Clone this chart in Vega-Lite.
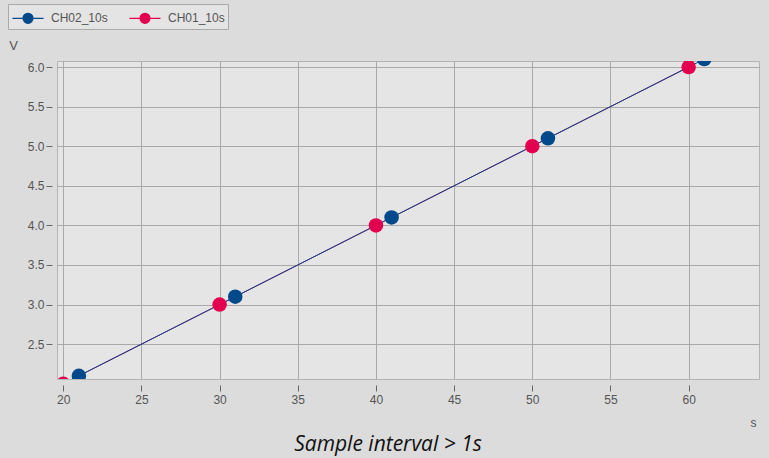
{
  "$schema": "https://vega.github.io/schema/vega-lite/v6.json",
  "width": 702,
  "height": 318,
  "autosize": {"type": "none"},
  "padding": {"left": 57, "top": 61, "right": 10, "bottom": 79},
  "background": "#dcdcdc",
  "title": {
    "text": "Sample interval > 1s",
    "orient": "bottom",
    "anchor": "middle",
    "font": "Open Sans",
    "fontStyle": "italic",
    "fontWeight": "normal",
    "fontSize": 21,
    "color": "#111111",
    "dx": -20,
    "offset": 6
  },
  "config": {
    "view": {"fill": "#e5e5e5", "stroke": "#b4b4b4"},
    "font": "Liberation Sans"
  },
  "data": {
    "values": [
      {"ch": "CH01_10s", "t": 20, "v": 2.0},
      {"ch": "CH01_10s", "t": 30, "v": 3.0},
      {"ch": "CH01_10s", "t": 40, "v": 4.0},
      {"ch": "CH01_10s", "t": 50, "v": 5.0},
      {"ch": "CH01_10s", "t": 60, "v": 6.0},
      {"ch": "CH02_10s", "t": 21, "v": 2.1},
      {"ch": "CH02_10s", "t": 31, "v": 3.1},
      {"ch": "CH02_10s", "t": 41, "v": 4.1},
      {"ch": "CH02_10s", "t": 51, "v": 5.1},
      {"ch": "CH02_10s", "t": 61, "v": 6.1}
    ]
  },
  "encoding": {
    "x": {
      "field": "t",
      "type": "quantitative",
      "scale": {"domain": [19.6, 64.5], "nice": false, "zero": false},
      "axis": {
        "values": [20, 25, 30, 35, 40, 45, 50, 55, 60],
        "title": "s",
        "titleX": 696,
        "titleY": 37,
        "titleAlign": "center",
        "titleBaseline": "middle",
        "titleFont": "Liberation Sans",
        "titleFontSize": 12,
        "titleFontWeight": "normal",
        "titleColor": "#555555",
        "domain": false,
        "offset": 6,
        "tickSize": 6,
        "tickColor": "#666666",
        "labelFontSize": 12,
        "labelColor": "#555555",
        "labelPadding": 3,
        "gridColor": "#a9a9a9",
        "gridOpacity": 1
      }
    },
    "y": {
      "field": "v",
      "type": "quantitative",
      "scale": {"domain": [2.06, 6.076], "nice": false, "zero": false},
      "axis": {
        "values": [2.5, 3.0, 3.5, 4.0, 4.5, 5.0, 5.5, 6.0],
        "format": ".1f",
        "title": "V",
        "titleAngle": 0,
        "titleX": -39,
        "titleY": -16,
        "titleAlign": "center",
        "titleBaseline": "middle",
        "titleFont": "Liberation Sans",
        "titleFontSize": 13,
        "titleFontWeight": "normal",
        "titleColor": "#555555",
        "domain": false,
        "offset": 5,
        "tickSize": 6,
        "tickColor": "#666666",
        "labelFontSize": 12,
        "labelColor": "#555555",
        "labelPadding": 2,
        "gridColor": "#a9a9a9",
        "gridOpacity": 1
      }
    },
    "color": {
      "field": "ch",
      "type": "nominal",
      "scale": {"domain": ["CH02_10s", "CH01_10s"], "range": ["#004a8c", "#e2004f"]},
      "legend": {
        "title": null,
        "orient": "none",
        "legendX": -49,
        "legendY": -57,
        "direction": "horizontal",
        "padding": 3,
        "fillColor": "#e4e4e4",
        "strokeColor": "#aaaaaa",
        "symbolType": "M-1.55,0H1.55M-0.5,0A0.5,0.5 0 1,0 0.5,0A0.5,0.5 0 1,0 -0.5,0Z",
        "symbolSize": 400,
        "symbolOffset": 6,
        "symbolStrokeWidth": 1.2,
        "labelFontSize": 12,
        "labelColor": "#555555",
        "labelOffset": 12,
        "columnPadding": 19,
        "encode": {
          "symbols": {
            "update": {
              "fill": {"scale": "color", "field": "value"},
              "stroke": {"scale": "color", "field": "value"},
              "opacity": {"value": 1}
            }
          }
        }
      }
    }
  },
  "layer": [
    {"mark": {"type": "line", "strokeWidth": 1, "clip": true}},
    {"mark": {"type": "point", "filled": true, "size": 210, "opacity": 1, "clip": true}}
  ]
}
